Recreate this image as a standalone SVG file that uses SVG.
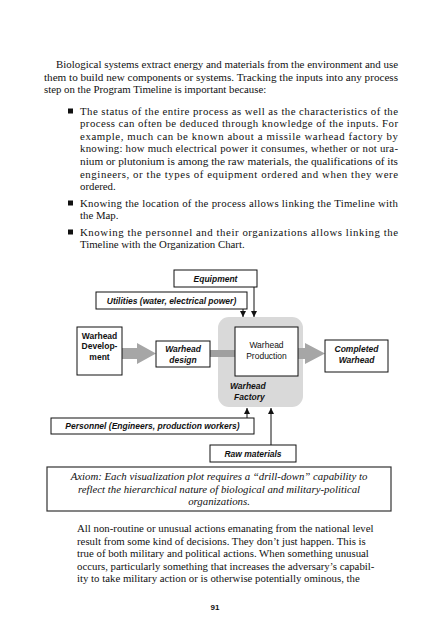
<svg xmlns="http://www.w3.org/2000/svg" width="427" height="640" viewBox="0 0 427 640">
<defs>
<style>
.body{font-family:"Liberation Serif","Times New Roman",serif;font-size:10.8px;fill:#111}
.ax{font-family:"Liberation Serif","Times New Roman",serif;font-size:10.8px;font-style:italic;fill:#111}
.lbl{font-family:"Liberation Sans",Arial,sans-serif;font-size:8.5px;fill:#111;text-anchor:middle}
.bi{font-weight:bold;font-style:italic}
.b{font-weight:bold}
.box{fill:#fff;stroke:#111;stroke-width:1}
.ln{stroke:#111;stroke-width:1;fill:none}
.pg{font-family:"Liberation Sans",Arial,sans-serif;font-size:8px;font-weight:bold;fill:#111;text-anchor:middle}
</style>
<marker id="ah" viewBox="0 0 10 10" refX="10" refY="5" markerWidth="6" markerHeight="6" markerUnits="userSpaceOnUse" orient="auto">
<path d="M0,0 L10,5 L0,10 z" fill="#111"/>
</marker>
</defs>
<rect width="427" height="640" fill="#fff"/>

<g id="page-text">
<text class="body" x="56" y="68" textLength="342" lengthAdjust="spacingAndGlyphs">Biological systems extract energy and materials from the environment and use</text>
<text class="body" x="44" y="80.6" textLength="354" lengthAdjust="spacingAndGlyphs">them to build new components or systems. Tracking the inputs into any process</text>
<text class="body" x="44" y="93.2">step on the Program Timeline is important because:</text>

<rect x="68" y="108.5" width="5" height="5" fill="#111"/>
<text class="body" x="80" y="114.5" textLength="318" lengthAdjust="spacing">The status of the entire process as well as the characteristics of the</text>
<text class="body" x="80" y="127.1" textLength="318" lengthAdjust="spacing">process can often be deduced through knowledge of the inputs. For</text>
<text class="body" x="80" y="139.7" textLength="318" lengthAdjust="spacing">example, much can be known about a missile warhead factory by</text>
<text class="body" x="80" y="152.3" textLength="318" lengthAdjust="spacing">knowing: how much electrical power it consumes, whether or not ura-</text>
<text class="body" x="80" y="164.9" textLength="318" lengthAdjust="spacingAndGlyphs">nium or plutonium is among the raw materials, the qualifications of its</text>
<text class="body" x="80" y="177.5" textLength="318" lengthAdjust="spacing">engineers, or the types of equipment ordered and when they were</text>
<text class="body" x="80" y="190.1">ordered.</text>

<rect x="68" y="200.5" width="5" height="5" fill="#111"/>
<text class="body" x="80" y="206.5" textLength="318" lengthAdjust="spacing">Knowing the location of the process allows linking the Timeline with</text>
<text class="body" x="80" y="219.1">the Map.</text>

<rect x="68" y="229.5" width="5" height="5" fill="#111"/>
<text class="body" x="80" y="235.5" textLength="318" lengthAdjust="spacing">Knowing the personnel and their organizations allows linking the</text>
<text class="body" x="80" y="248.1">Timeline with the Organization Chart.</text>
</g>

<g id="factory">
<rect x="218" y="317" width="85" height="90" rx="11" fill="#d9d9d9"/>
<text class="lbl bi" x="230" y="389" style="text-anchor:start">Warhead</text>
<text class="lbl bi" x="234" y="399.5" style="text-anchor:start">Factory</text>
</g>

<g id="connectors">
<path d="M254,287 V317" class="ln" marker-end="url(#ah)"/>
<path d="M243,309 V317" class="ln" marker-end="url(#ah)"/>
<path d="M247,418 V408" class="ln" marker-end="url(#ah)"/>
<path d="M271,445 V408" class="ln" marker-end="url(#ah)"/>
<path d="M122,348 H137 V343 L156,353.5 L137,364 V359 H122 z" fill="#a6a6a6"/>
<rect x="210" y="350" width="25" height="7" fill="#a0a0a0"/>
<path d="M298,348 H305 V343 L325,353.5 L305,364 V359 H298 z" fill="#a6a6a6"/>
</g>

<g id="equipment">
<rect class="box" x="174" y="270" width="83" height="17"/>
<text class="lbl bi" x="215.5" y="281.5">Equipment</text>
</g>
<g id="utilities">
<rect class="box" x="96" y="292" width="151" height="17"/>
<text class="lbl bi" x="171.5" y="303.5">Utilities (water, electrical power)</text>
</g>
<g id="warhead-development">
<rect class="box" x="77" y="327" width="45" height="48"/>
<text class="lbl b" x="99.5" y="338.5">Warhead</text>
<text class="lbl b" x="99.5" y="349">Develop-</text>
<text class="lbl b" x="99.5" y="359.5">ment</text>
</g>
<g id="warhead-design">
<rect class="box" x="156" y="341" width="54" height="26"/>
<text class="lbl bi" x="183" y="352">Warhead</text>
<text class="lbl bi" x="183" y="362.5">design</text>
</g>
<g id="warhead-production">
<rect class="box" x="235" y="327" width="63" height="49"/>
<text class="lbl" x="266.5" y="348">Warhead</text>
<text class="lbl" x="266.5" y="358.5">Production</text>
</g>
<g id="completed-warhead">
<rect class="box" x="325" y="340" width="63" height="32"/>
<text class="lbl bi" x="356.5" y="352">Completed</text>
<text class="lbl bi" x="356.5" y="362.5">Warhead</text>
</g>
<g id="personnel">
<rect class="box" x="51" y="418" width="203" height="16"/>
<text class="lbl bi" x="152.5" y="429">Personnel (Engineers, production workers)</text>
</g>
<g id="raw-materials">
<rect class="box" x="210" y="445" width="86" height="17"/>
<text class="lbl bi" x="253" y="456.5">Raw materials</text>
</g>

<g id="axiom">
<rect x="47" y="467" width="344" height="44" fill="#fff" stroke="#333" stroke-width="1.2"/>
<text class="ax" x="219" y="480" text-anchor="middle">Axiom: Each visualization plot requires a “drill-down” capability to</text>
<text class="ax" x="219" y="492.5" text-anchor="middle">reflect the hierarchical nature of biological and military-political</text>
<text class="ax" x="219" y="505" text-anchor="middle">organizations.</text>
</g>

<g id="closing-text">
<text class="body" x="77" y="532">All non-routine or unusual actions emanating from the national level</text>
<text class="body" x="77" y="544.5">result from some kind of decisions. They don’t just happen. This is</text>
<text class="body" x="77" y="557">true of both military and political actions. When something unusual</text>
<text class="body" x="77" y="569.5">occurs, particularly something that increases the adversary’s capabil-</text>
<text class="body" x="77" y="582">ity to take military action or is otherwise potentially ominous, the</text>
<text class="pg" x="215" y="610">91</text>
</g>
</svg>
